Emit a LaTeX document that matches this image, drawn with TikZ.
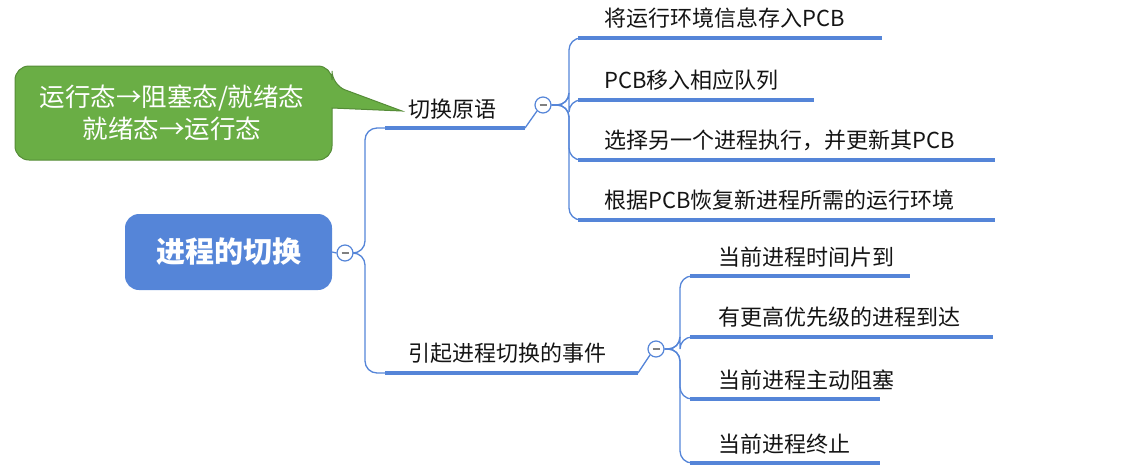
\documentclass[tikz,border=0pt]{standalone}
\usepackage{fontspec}
\setmainfont{Noto Sans CJK SC}
\begin{document}
\begin{tikzpicture}[x=1pt,y=-1pt,
  conn/.style={draw={rgb,255:red,85;green,133;blue,216}, line width=1.3pt, rounded corners=12pt},
  uline/.style={draw={rgb,255:red,85;green,133;blue,216}, line width=4pt},
  leaf/.style={anchor=south west, inner sep=0pt, font=\fontsize{22}{22}\selectfont, text={rgb,255:red,20;green,20;blue,20}},
  col/.style={circle, draw={rgb,255:red,85;green,133;blue,216}, fill=white, line width=1.2pt, minimum size=16pt, inner sep=0pt,
     path picture={\draw[gray, line width=1.5pt] ([xshift=-3.5pt]path picture bounding box.center) -- ([xshift=3.5pt]path picture bounding box.center);}}]
\definecolor{mblue}{RGB}{85,133,216}
\definecolor{mgreen}{RGB}{106,174,69}
\definecolor{dgreen}{RGB}{85,140,55}
\useasboundingbox (0,0) rectangle (1128,472);
% callout
\fill[mgreen, draw=dgreen, line width=1pt, rounded corners=14pt] (15,66) -- (332,66) -- (332,85) [sharp corners] -- (402,111) -- (332,108) [rounded corners=14pt] -- (332,160) -- (15,160) -- cycle;
\node[align=center, text=white, font=\fontsize{25.5}{32}\selectfont] (callout) at (172,113) {运行态→阻塞态/就绪态\\就绪态→运行态};
% root
\node[fill=mblue, rounded corners=14pt, minimum width=207pt, minimum height=76pt, text=white, font=\fontsize{29}{29}\selectfont\bfseries] (root) at (228.5,252) {进程的切换};
\node[col] (c0) at (345,253) {};
\draw[conn] (root.east) -- (c0.west);
% branches
\coordinate (b1s) at (385,128); \coordinate (b1e) at (525,128);
\coordinate (b2s) at (385,373); \coordinate (b2e) at (638,373);
\draw[uline] (b1s) -- (b1e);
\draw[uline] (b2s) -- (b2e);
\node[leaf] (b1) at (408,119) {切换原语};
\node[leaf] (b2) at (408,364) {引起进程切换的事件};
\draw[conn] (c0.east) -- (365,253) -- (365,128) -- (b1s);
\draw[conn] (c0.east) -- (365,253) -- (365,373) -- (b2s);
\node[col] (c1) at (543,105) {};
\node[col] (c2) at (656,349) {};
\draw[conn] (b1e) -- (c1.south west);
\draw[conn] (b2e) -- (c2.south west);
\foreach \n/\y/\e/\t in {1/38/882/将运行环境信息存入PCB, 2/100/814/PCB移入相应队列, 3/160/995/{选择另一个进程执行，并更新其PCB}, 4/220/995/根据PCB恢复新进程所需的运行环境}{
  \coordinate (s\n) at (578,\y);
  \draw[uline] (s\n) -- (\e,\y);
  \node[leaf] (t\n) at (604,\y-9) {\t};
  \draw[conn] (c1.east) -- (569,105) -- (569,\y) -- (s\n);
}
\foreach \n/\y/\e/\t in {5/276/910/当前进程时间片到, 6/337/993/有更高优先级的进程到达, 7/399/880/当前进程主动阻塞, 8/463/880/当前进程终止}{
  \coordinate (s\n) at (690,\y);
  \draw[uline] (s\n) -- (\e,\y);
  \node[leaf] (t\n) at (718,\y-9) {\t};
  \draw[conn] (c2.east) -- (680,349) -- (680,\y) -- (s\n);
}
\end{tikzpicture}
\end{document}
